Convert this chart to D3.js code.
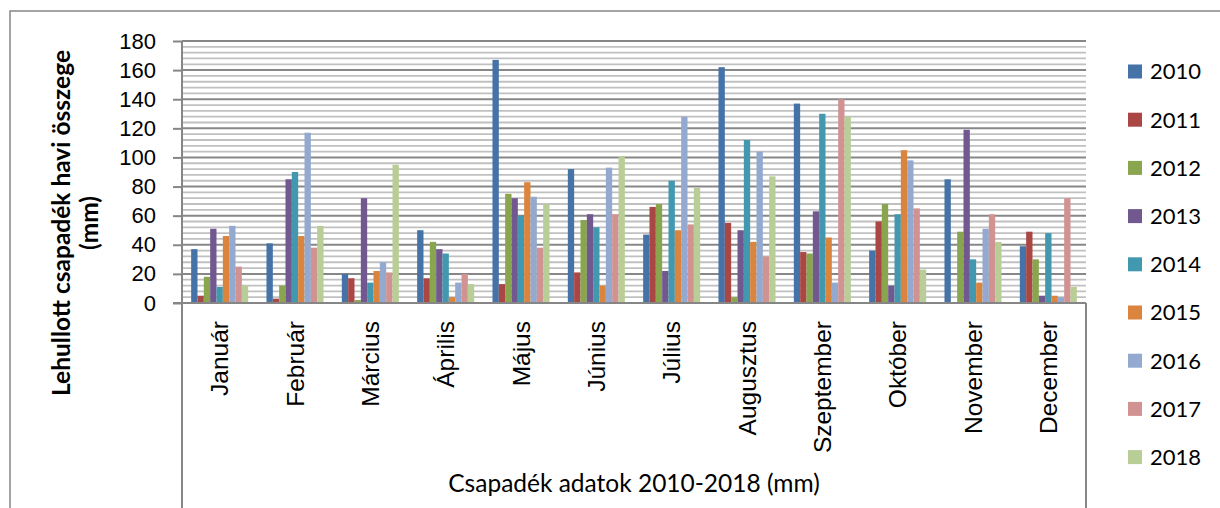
<!DOCTYPE html>
<html>
<head>
<meta charset="utf-8">
<script src="https://cdn.jsdelivr.net/npm/d3@7"></script>
<style>
  html, body { margin: 0; padding: 0; background: #fff; }
  svg { display: block; font-family: Lato, "Open Sans", sans-serif; }
</style>
</head>
<body>
<svg id="chart" width="1220" height="508"></svg>
<script>
// monthly precipitation (mm)
const months = ['Január', 'Február', 'Március', 'Április', 'Május', 'Június',
  'Július', 'Augusztus', 'Szeptember', 'Október', 'November', 'December'];
const years = ['2010', '2011', '2012', '2013', '2014', '2015', '2016', '2017', '2018'];

const v2010 = [37, 41, 20, 50, 167, 92, 47, 162, 137, 36, 85, 39];
const v2011 = [5, 3, 17, 17, 13, 21, 66, 55, 35, 56, 0, 49];
const v2012 = [18, 12, 2, 42, 75, 57, 68, 4, 34, 68, 49, 30];
const v2013 = [51, 85, 72, 37, 72, 61, 22, 50, 63, 12, 119, 5];
const v2014 = [11, 90, 14, 34, 60, 52, 84, 112, 130, 61, 30, 48];
const v2015 = [46, 46, 22, 4, 83, 12, 50, 42, 45, 105, 14, 5];
const v2016 = [53, 117, 28, 14, 73, 93, 128, 104, 14, 98, 51, 4];
const v2017 = [25, 38, 21, 20, 38, 61, 54, 32, 140, 65, 61, 72];
const v2018 = [12, 53, 95, 13, 68, 101, 79, 87, 128, 23, 42, 11];

const yTicks = [0, 20, 40, 60, 80, 100, 120, 140, 160, 180];
const colors = ['#4572A7', '#AA4643', '#89A54E', '#71588F', '#4198AF',
  '#DB843D', '#93A9CF', '#D19392', '#B9CD96'];

const yTitle1 = 'Lehullott csapadék havi összege';
const yTitle2 = '(mm)';
const xTitle = 'Csapadék adatok 2010-2018 (mm)';

const series = [v2010, v2011, v2012, v2013, v2014, v2015, v2016, v2017, v2018];

const svg = d3.select('#chart');
const plot = {left: 182, right: 1086, top: 41, bottom: 303};
const labelSize = '24.5px';

// outer chart border (right and bottom run off the picture)
svg.append('rect')
  .attr('x', 10).attr('y', 11)
  .attr('width', 1300).attr('height', 600)
  .attr('fill', 'none')
  .attr('stroke', '#868686')
  .attr('stroke-width', 1.5);

const y = d3.scaleLinear().domain([0, 180]).range([plot.bottom, plot.top]);

const x0 = d3.scaleBand()
  .domain(months)
  .range([plot.left, plot.right])
  .paddingInner(0.243)
  .paddingOuter(0.1215);

const x1 = d3.scaleBand()
  .domain(years)
  .range([0, x0.bandwidth()]);

// gridlines: minor every 4, major every 20
const minor = d3.range(0, 181, 4).filter(d => d % 20 !== 0);
svg.append('g')
  .selectAll('line')
  .data(minor)
  .enter().append('line')
  .attr('x1', plot.left).attr('x2', plot.right)
  .attr('y1', d => y(d)).attr('y2', d => y(d))
  .attr('stroke', '#c0c0c0')
  .attr('stroke-width', 1.8);

svg.append('g')
  .selectAll('line')
  .data(yTicks.filter(d => d > 0))
  .enter().append('line')
  .attr('x1', plot.left).attr('x2', plot.right)
  .attr('y1', d => y(d)).attr('y2', d => y(d))
  .attr('stroke', '#878787')
  .attr('stroke-width', 2);

// bars
const groups = svg.append('g')
  .selectAll('g')
  .data(months)
  .enter().append('g')
  .attr('transform', d => 'translate(' + x0(d) + ',0)');

groups.selectAll('rect')
  .data((m, i) => years.map((yr, k) => ({year: yr, value: series[k][i], k: k})))
  .enter().append('rect')
  .attr('x', d => x1(d.year))
  .attr('y', d => y(d.value))
  .attr('width', x1.bandwidth())
  .attr('height', d => y(0) - y(d.value))
  .attr('fill', d => colors[d.k]);

// y axis
const yAxis = d3.axisLeft(y)
  .tickValues(yTicks)
  .tickSize(9)
  .tickPadding(17);

svg.append('g')
  .attr('transform', 'translate(' + plot.left + ',0)')
  .call(yAxis)
  .call(g => g.select('.domain').remove())
  .call(g => g.selectAll('.tick line').attr('stroke', '#868686').attr('stroke-width', 2))
  .selectAll('text')
    .attr('fill', '#000')
    .style('font-size', '22px');

// axis frame lines (extend down through the category label area)
svg.append('line')
  .attr('x1', plot.left).attr('x2', plot.left)
  .attr('y1', plot.top).attr('y2', 508)
  .attr('stroke', '#868686').attr('stroke-width', 2);
svg.append('line')
  .attr('x1', plot.right).attr('x2', plot.right)
  .attr('y1', plot.bottom).attr('y2', 508)
  .attr('stroke', '#868686').attr('stroke-width', 2);
svg.append('line')
  .attr('x1', plot.left - 9).attr('x2', plot.right)
  .attr('y1', plot.bottom).attr('y2', plot.bottom)
  .attr('stroke', '#868686').attr('stroke-width', 2);

// x axis: rotated month names
const xAxis = d3.axisBottom(x0).tickSize(0).tickPadding(0);
svg.append('g')
  .attr('transform', 'translate(0,' + plot.bottom + ')')
  .call(xAxis)
  .call(g => g.select('.domain').remove())
  .selectAll('text')
    .attr('fill', '#000')
    .style('font-size', labelSize)
    .style('text-anchor', 'end')
    .attr('x', 0)
    .attr('y', 0)
    .attr('dy', '0.35em')
    .attr('transform', 'translate(0,18) rotate(-90)');

// axis titles
svg.append('text')
  .attr('transform', 'translate(61,223) rotate(-90)')
  .attr('dy', '0.35em')
  .style('text-anchor', 'middle')
  .style('font-size', labelSize)
  .style('font-weight', 'bold')
  .text(yTitle1);
svg.append('text')
  .attr('transform', 'translate(89,223) rotate(-90)')
  .attr('dy', '0.35em')
  .style('text-anchor', 'middle')
  .style('font-size', labelSize)
  .style('font-weight', 'bold')
  .text(yTitle2);

svg.append('text')
  .attr('x', (plot.left + plot.right) / 2)
  .attr('y', 492)
  .style('text-anchor', 'middle')
  .style('font-size', labelSize)
  .text(xTitle);

// legend
const legend = svg.append('g')
  .selectAll('g')
  .data(years)
  .enter().append('g')
  .attr('transform', (d, i) => 'translate(1128,' + (71.5 + i * 48.2) + ')');

legend.append('rect')
  .attr('x', 0).attr('y', -7)
  .attr('width', 14).attr('height', 14)
  .attr('fill', (d, i) => colors[i]);

legend.append('text')
  .attr('x', 22)
  .attr('dy', '0.36em')
  .style('font-size', '22px')
  .text(d => d);
</script>
</body>
</html>
